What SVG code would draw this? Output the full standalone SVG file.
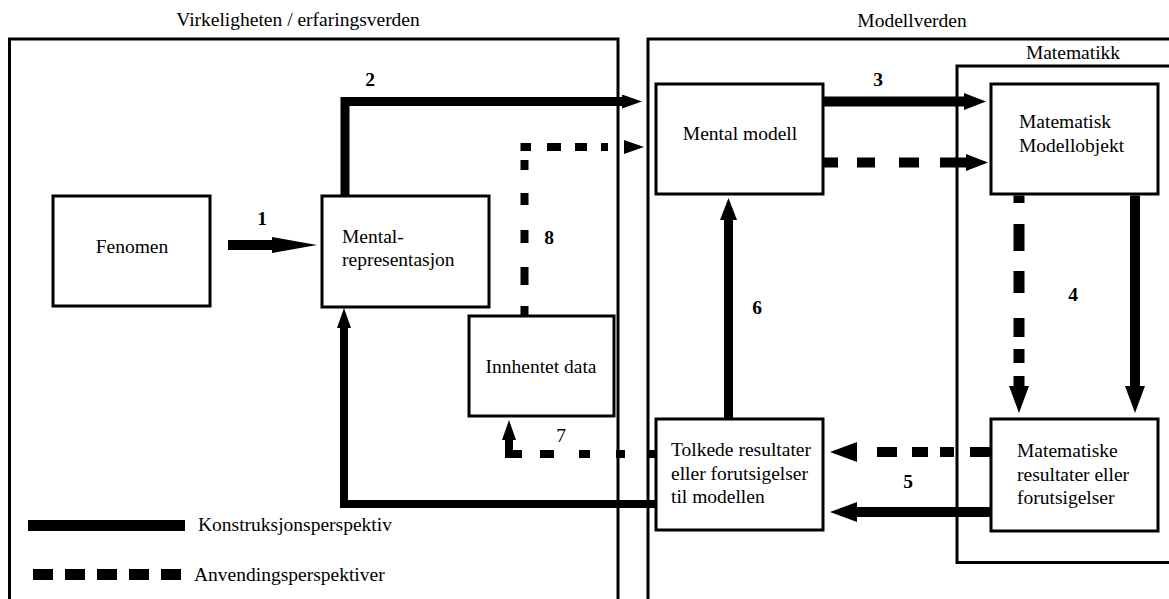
<svg xmlns="http://www.w3.org/2000/svg" width="1169" height="599" viewBox="0 0 1169 599">
  <style>
    text { font-family: "Liberation Serif", "Times New Roman", serif; font-size: 19.5px; fill: #000; }
    .num { font-weight: bold; text-anchor: middle; }
    .mid { text-anchor: middle; }
    .frame { fill: none; stroke: #000; stroke-width: 3; }
    .box { fill: #fff; stroke: #000; stroke-width: 3; }
    .link { fill: none; stroke: #000; stroke-linecap: butt; stroke-linejoin: miter; }
    .head { fill: #000; stroke: none; }
  </style>
  <defs>
    <marker id="head-s" markerUnits="userSpaceOnUse" orient="auto-start-reverse" markerWidth="20" markerHeight="14" refX="0" refY="7" viewBox="0 0 20 14">
      <path class="head" d="M0,0 L20,7 L0,14 z"/>
    </marker>
    <marker id="head-m" markerUnits="userSpaceOnUse" orient="auto-start-reverse" markerWidth="22" markerHeight="17" refX="0" refY="8.5" viewBox="0 0 22 17">
      <path class="head" d="M0,0 L22,8.5 L0,17 z"/>
    </marker>
    <marker id="head-l" markerUnits="userSpaceOnUse" orient="auto-start-reverse" markerWidth="27" markerHeight="20" refX="0" refY="10" viewBox="0 0 27 20">
      <path class="head" d="M0,0 L27,10 L0,20 z"/>
    </marker>
    <marker id="head-long" markerUnits="userSpaceOnUse" orient="auto" markerWidth="45" markerHeight="16" refX="0" refY="8" viewBox="0 0 45 16">
      <path class="head" d="M0,0 L45,8 L0,16 z"/>
    </marker>
  </defs>

  <!-- world frames -->
  <g id="frames">
    <rect class="frame" x="9.5" y="39" width="608.5" height="620"/>
    <text class="mid" x="298" y="26">Virkeligheten / erfaringsverden</text>
    <rect class="frame" x="648" y="39" width="600" height="620"/>
    <text class="mid" x="912" y="27">Modellverden</text>
    <rect class="frame" x="957" y="66" width="300" height="496.5"/>
    <text class="mid" x="1073" y="59">Matematikk</text>
  </g>

  <!-- connectors -->
  <g id="connectors">
    <!-- 1 -->
    <path class="link" stroke-width="10" d="M228,245 H272" marker-end="url(#head-long)"/>
    <text class="num" x="262" y="225">1</text>
    <!-- 2 -->
    <path class="link" stroke-width="9" d="M345,196 V101.5 H622" marker-end="url(#head-s)"/>
    <text class="num" x="370" y="86">2</text>
    <!-- 8 (dashed, drawn from the head back to the data box) -->
    <path class="link" stroke-width="8" d="M624,147 H524.5 V316" marker-start="url(#head-s)"
          stroke-dasharray="0 16 7 14 12 14 14 16 10.5 9 10 23 12 25 13 24 18 21 10 100"/>
    <text class="num" x="549" y="244">8</text>
    <!-- 3 -->
    <path class="link" stroke-width="10" d="M824,101.5 H964" marker-end="url(#head-m)"/>
    <path class="link" stroke-width="10" d="M966,162.5 H824" marker-start="url(#head-m)"
          stroke-dasharray="26 21 20 24 18 19 14"/>
    <text class="num" x="878" y="86">3</text>
    <!-- 4 -->
    <path class="link" stroke-width="11" d="M1019,386 V195.5" marker-start="url(#head-l)"
          stroke-dasharray="10 13 14 12 19 25 22 20 27 21 10"/>
    <path class="link" stroke-width="10" d="M1135,195.5 V386" marker-end="url(#head-l)"/>
    <text class="num" x="1073" y="301">4</text>
    <!-- 5 -->
    <path class="link" stroke-width="10" d="M990,452 H857" marker-end="url(#head-l)"
          stroke-dasharray="20 16 14 12 16 15 20 20"/>
    <path class="link" stroke-width="10" d="M990,512 H857" marker-end="url(#head-l)"/>
    <text class="num" x="908" y="488">5</text>
    <!-- 6 -->
    <path class="link" stroke-width="9" d="M728.5,419 V220" marker-end="url(#head-m)"/>
    <text class="num" x="757" y="314">6</text>
    <!-- 7 (dashed, drawn from the head back to the interpreted results) -->
    <path class="link" stroke-width="8" d="M509,440 V454 H656" marker-start="url(#head-s)"
          stroke-dasharray="27 18 14 25 11 26 9 24 7 50"/>
    <text class="mid" x="561" y="442">7</text>
    <!-- interpreted results back to the mental representation -->
    <path class="link" stroke-width="8" d="M656,504 H344 V328" marker-end="url(#head-s)"/>
  </g>

  <!-- nodes -->
  <g id="fenomen">
    <rect class="box" x="53" y="196" width="157" height="110"/>
    <text class="mid" x="132" y="253">Fenomen</text>
  </g>
  <g id="mental-representasjon">
    <rect class="box" x="322" y="196" width="167" height="111"/>
    <text x="342" y="243">Mental-</text>
    <text x="342" y="266">representasjon</text>
  </g>
  <g id="innhentet-data">
    <rect class="box" x="469" y="316" width="145" height="100"/>
    <text class="mid" x="541" y="373">Innhentet data</text>
  </g>
  <g id="mental-modell">
    <rect class="box" x="656" y="84" width="167" height="110"/>
    <text class="mid" x="740" y="140">Mental modell</text>
  </g>
  <g id="matematisk-modellobjekt">
    <rect class="box" x="991" y="84" width="167" height="110"/>
    <text x="1019" y="128">Matematisk</text>
    <text x="1019" y="152">Modellobjekt</text>
  </g>
  <g id="tolkede-resultater">
    <rect class="box" x="656" y="419" width="167" height="111"/>
    <text x="671" y="456">Tolkede resultater</text>
    <text x="671" y="480">eller forutsigelser</text>
    <text x="671" y="503">til modellen</text>
  </g>
  <g id="matematiske-resultater">
    <rect class="box" x="991" y="419" width="167" height="112"/>
    <text x="1017" y="457">Matematiske</text>
    <text x="1017" y="481">resultater eller</text>
    <text x="1017" y="504">forutsigelser</text>
  </g>

  <!-- legend -->
  <g id="legend">
    <path class="link" stroke-width="11" d="M28,525.5 H185"/>
    <text x="198" y="531">Konstruksjonsperspektiv</text>
    <path class="link" stroke-width="11" d="M33,574.5 H182" stroke-dasharray="20 12"/>
    <text x="194" y="581">Anvendingsperspektiver</text>
  </g>
</svg>
